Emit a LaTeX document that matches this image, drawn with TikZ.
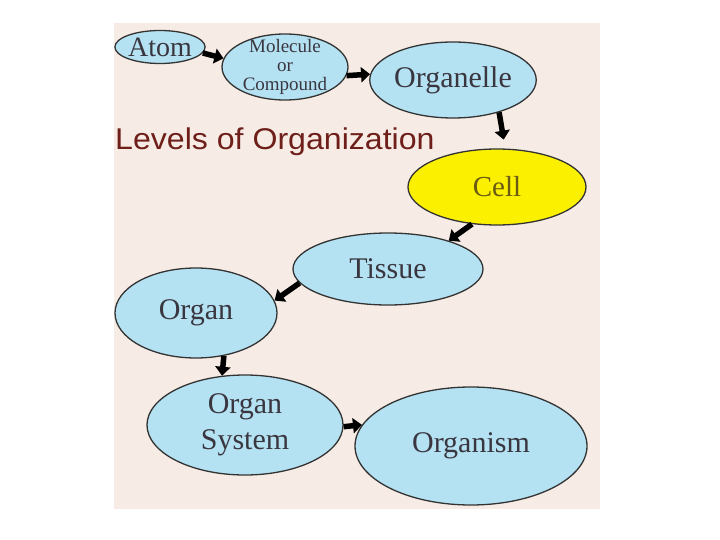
\documentclass[tikz,border=0pt]{standalone}
\usepackage{fontspec}
\setmainfont{Liberation Serif}
\newfontfamily\headfont{Liberation Sans}
\usetikzlibrary{arrows.meta, shapes.geometric}
\definecolor{panelBg}{HTML}{F7ECE5}
\definecolor{levelBlue}{HTML}{B4E2F2}
\definecolor{cellYellow}{HTML}{FAF000}
\definecolor{inkGray}{HTML}{3A3640}
\definecolor{titleRed}{HTML}{6E1F1A}
\definecolor{cellInk}{HTML}{6A5A12}

\tikzset{
  level/.style={ellipse, draw=black!80, line width=1.3pt, fill=levelBlue,
                inner sep=0pt, text=inkGray, align=center,
                font=\fontsize{30}{36}\selectfont},
  flow/.style={-{Triangle[length=9pt,width=15pt]}, line width=5.5pt, black},
}

\begin{document}
\begin{tikzpicture}[x=1pt, y=-1pt]
  \useasboundingbox (0,0) rectangle (720,540);
  \fill[panelBg] (114,23) rectangle (600,509);

  % levels, smallest first
  \node[level, minimum width=90pt, minimum height=33pt,
        font=\fontsize{28}{30}\selectfont] (atom) at (160,47) {Atom};
  \node[level, minimum width=126pt, minimum height=66pt, inner ysep=-11pt,
        font=\fontsize{19}{19}\selectfont] (mol) at (285,67) {Molecule\\or\\Compound};
  \node[level, minimum width=162pt, minimum height=76pt] (organelle) at (453,80) {Organelle};
  \node[level, fill=cellYellow, text=cellInk, minimum width=178pt,
        minimum height=76pt, font=\fontsize{29}{30}\selectfont] (cell) at (497,187) {Cell};
  \node[level, minimum width=190pt, minimum height=72pt] (tissue) at (388,269) {Tissue};
  \node[level, minimum width=162pt, minimum height=90pt] (organ) at (196,313) {Organ};
  \node[level, minimum width=196pt, minimum height=100pt] (orgsys) at (245,425) {Organ\\System};
  \node[level, minimum width=232pt, minimum height=118pt] (organism) at (471,446) {Organism};

  \node[anchor=base west, inner sep=0pt, text=titleRed, xscale=1.07,
        font=\headfont\fontsize{30}{32}\selectfont] (title) at (115,150) {Levels of Organization};

  % arrows between the levels
  \draw[flow] (atom.-8) -- (mol.172);
  \draw[flow] (mol.-8) -- (organelle.176);
  \draw[flow, shorten >=9pt] (organelle.-35) -- (cell.78);
  \draw[flow] (cell.236) -- (tissue.25);
  \draw[flow] (tissue.189) -- (organ.9);
  \draw[flow] (organ.-57) -- (orgsys.115);
  \draw[flow] (orgsys.-1) -- (organism.169);
\end{tikzpicture}
\end{document}
